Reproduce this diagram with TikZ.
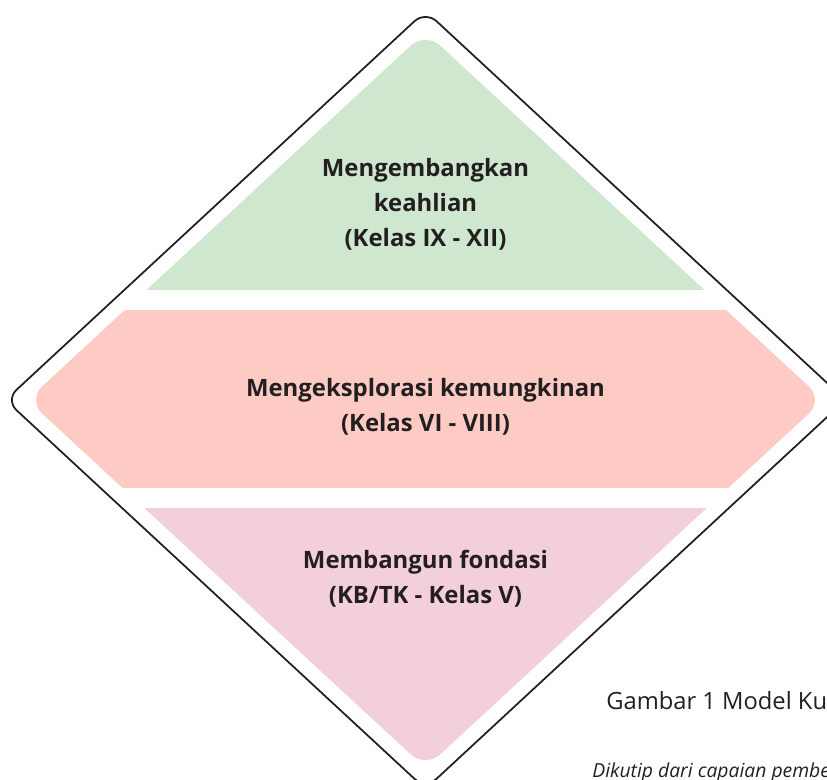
\documentclass[tikz,border=0pt]{standalone}
\usepackage{fontspec}
\setmainfont{Open Sans}
\definecolor{hijau}{HTML}{CFE7CF}
\definecolor{salem}{HTML}{FDCBC4}
\definecolor{merahmuda}{HTML}{F3CEDC}
\definecolor{tinta}{HTML}{231F20}
\begin{document}
\begin{tikzpicture}[text=tinta]
        \useasboundingbox (-8.51,-7.58) rectangle (8.03,8);
        \clip (-8.51,-7.58) rectangle (8.03,8);
        \begin{scope}
            \clip[rounded corners=0.4cm] (0,7.36)--(-7.96,0)--(0,-7.36)--(7.96,0)--cycle;
            \fill[hijau] (-9,2.2) rectangle (9,8);
            \fill[salem] (-9,-1.76) rectangle (9,1.8);
            \fill[merahmuda] (-9,-2.16) rectangle (9,-8);
        \end{scope}
        \draw[line width=1pt,color=tinta,rounded corners=0.3cm] (0,7.78)--(-8.4,0)--(0,-7.78)--(8.4,0)--cycle;
        \node[align=center,font=\fontsize{13.6}{19.9}\selectfont\bfseries] (atas) at (0,3.92) {Mengembangkan\\keahlian\\(Kelas IX - XII)};
        \node[align=center,font=\fontsize{13.6}{19.9}\selectfont\bfseries] (tengah) at (0,-0.14) {Mengeksplorasi kemungkinan\\(Kelas VI - VIII)};
        \node[align=center,font=\fontsize{13.6}{19.9}\selectfont\bfseries] (bawah) at (0,-3.58) {Membangun fondasi\\(KB/TK - Kelas V)};
        \node[anchor=base west,inner sep=0pt,font=\fontsize{13.5}{16}\selectfont] (judul) at (3.61,-6.18) {Gambar 1 Model Ku};
        \node[anchor=base west,inner sep=0pt,font=\fontsize{11}{13}\selectfont\itshape] (sumber) at (3.33,-7.54) {Dikutip dari capaian pembe};
\end{tikzpicture}
\end{document}
